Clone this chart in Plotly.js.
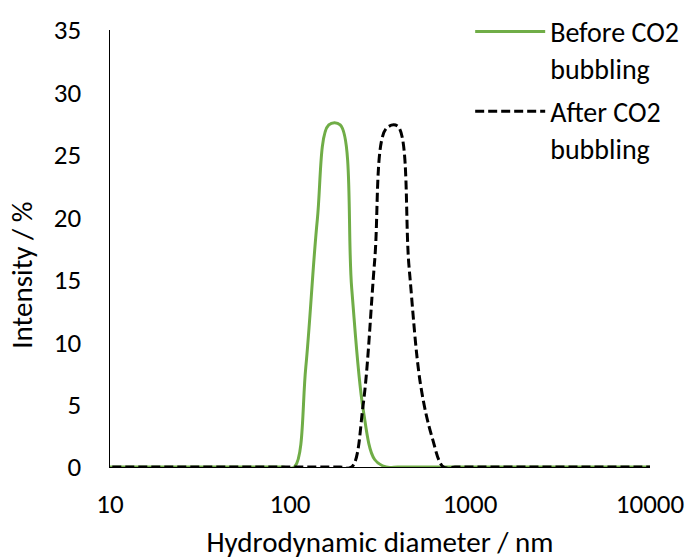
<!DOCTYPE html>
<html>
<head>
<meta charset="utf-8">
<script src="https://cdn.plot.ly/plotly-3.0.1.min.js"></script>
<style>
  html, body { margin: 0; padding: 0; background: #ffffff; }
  #chart { width: 691px; height: 560px; }
</style>
</head>
<body>
<div id="chart"></div>
<script>
// Size bins (nm) of the DLS intensity distribution
const diameterNm = [
  8.721, 10.10, 11.70, 13.54, 15.69, 18.17, 21.04, 24.36, 28.21, 32.67,
  37.84, 43.82, 50.75, 58.77, 68.06, 78.82, 91.28, 105.7, 122.4, 141.8,
  164.2, 190.1, 220.2, 255.0, 295.3, 342.0, 396.1, 458.7, 531.2, 615.1,
  712.4, 825.0, 955.4, 1106, 1281, 1484, 1718, 1990, 2305, 2669,
  3091, 3580, 4145, 4801, 5560, 6439, 7456, 8632, 10000
];

// Intensity (%) before CO2 bubbling
const beforeCO2 = [
  0, 0, 0, 0, 0, 0, 0, 0, 0, 0,
  0, 0, 0, 0, 0, 0, 0, 0, 8.0, 19.8,
  27.4, 27.4, 14.3, 4.6, 0.6, 0, 0, 0, 0, 0,
  0, 0, 0, 0, 0, 0, 0, 0, 0, 0,
  0, 0, 0, 0, 0, 0, 0, 0, 0
];

// Intensity (%) after CO2 bubbling
const afterCO2 = [
  0, 0, 0, 0, 0, 0, 0, 0, 0, 0,
  0, 0, 0, 0, 0, 0, 0, 0, 0, 0,
  0, 0, 0, 5.0, 16.5, 27.1, 27.3, 16.0, 6.6, 2.4,
  0, 0, 0, 0, 0, 0, 0, 0, 0, 0,
  0, 0, 0, 0, 0, 0, 0, 0, 0
];

const seriesNames = ['Before CO2<br>bubbling', 'After CO2<br>bubbling'];
const xTickVals = [10, 100, 1000, 10000];
const xTickText = ['10', '100', '1000', '10000'];
const yTickVals = [0, 5, 10, 15, 20, 25, 30, 35];

const FONT = 'Carlito, Lato, "Liberation Sans", sans-serif';
const TEXT_SIZE = 28;
const TITLE_SIZE = 29;
const TICK_SIZE = 27;

const traces = [
  {
    x: diameterNm, y: beforeCO2, name: seriesNames[0], legendgroup: 'before',
    type: 'scatter', mode: 'lines',
    line: { color: '#70AD47', width: 3, shape: 'spline', smoothing: 1 }
  },
  {
    x: diameterNm, y: afterCO2, name: seriesNames[1], legendgroup: 'after',
    type: 'scatter', mode: 'lines',
    line: { color: '#000000', width: 3, dash: '9px,4px', shape: 'spline', smoothing: 1 }
  }
];

const layout = {
  width: 691, height: 560,
  margin: { l: 110, r: 41, t: 30, b: 93, autoexpand: false },
  paper_bgcolor: '#ffffff', plot_bgcolor: '#ffffff',
  font: { family: FONT, size: TEXT_SIZE, color: '#000000' },
  showlegend: true,
  legend: {
    x: 0.667, y: 1.053, xanchor: 'left', yanchor: 'top',
    bgcolor: 'rgba(0,0,0,0)', valign: 'top',
    itemwidth: 70, traceorder: 'grouped', tracegroupgap: 4,
    font: { family: FONT, size: TEXT_SIZE, color: '#000000' }
  },
  xaxis: {
    type: 'log', range: [1, 4],
    tickvals: xTickVals, ticktext: xTickText,
    tickfont: { family: FONT, size: TICK_SIZE },
    showgrid: false, zeroline: false,
    showline: true, linecolor: '#000000', linewidth: 1,
    ticks: '', ticklabelstandoff: 13,
    title: { text: 'Hydrodynamic diameter / nm', standoff: 20, font: { family: FONT, size: TITLE_SIZE } }
  },
  yaxis: {
    range: [0, 35], tickvals: yTickVals,
    tickfont: { family: FONT, size: TICK_SIZE },
    showgrid: false, zeroline: false,
    showline: true, linecolor: '#000000', linewidth: 1.5,
    ticks: '', ticklabelstandoff: 22
  },
  annotations: [
    {
      text: 'Intensity / %', textangle: -90,
      xref: 'paper', yref: 'paper', x: -0.163, y: 0.44,
      xanchor: 'center', yanchor: 'middle', showarrow: false,
      font: { family: FONT, size: TITLE_SIZE, color: '#000000' }
    }
  ]
};

Plotly.newPlot('chart', traces, layout, { staticPlot: true, displayModeBar: false });
</script>
</body>
</html>
